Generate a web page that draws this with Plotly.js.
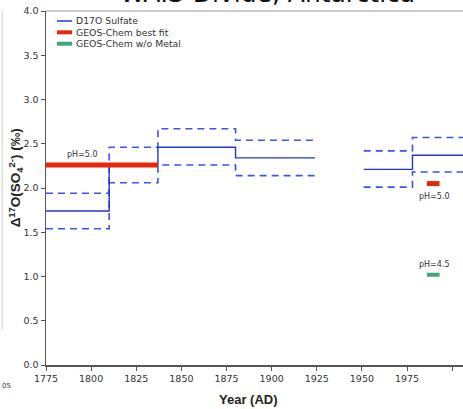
<!DOCTYPE html>
<html><head><meta charset="utf-8">
<script src="https://cdn.plot.ly/plotly-3.0.1.min.js"></script>
<style>html,body{margin:0;padding:0;background:#fff}#c{width:463px;height:409px}</style>
</head><body><div id="c"></div>
<script>
// Period boundaries (years AD) and D17O sulfate values
const periodA_x = [1775, 1810, 1837, 1880, 1924];
const periodA_mean = [1.74, 2.26, 2.46, 2.34, 2.34];
const periodA_upper = [1.94, 2.46, 2.67, 2.54, 2.54];
const periodA_lower = [1.54, 2.06, 2.26, 2.14, 2.14];
const periodB_x = [1951, 1978, 2006];
const periodB_mean = [2.21, 2.37, 2.37];
const periodB_upper = [2.42, 2.57, 2.57];
const periodB_lower = [2.01, 2.18, 2.18];
// GEOS-Chem model results
const bestfit_x1 = [1775, 1837];
const bestfit_y1 = [2.26, 2.26];
const bestfit_x2 = [1986, 1993];
const bestfit_y2 = [2.05, 2.05];
const nometal_x = [1986, 1993];
const nometal_y = [1.02, 1.02];
const xTicks = [1775, 1800, 1825, 1850, 1875, 1900, 1925, 1950, 1975, 2000];
const yTicks = [0, 0.5, 1, 1.5, 2, 2.5, 3, 3.5, 4];
const seriesNames = ['D17O Sulfate', 'GEOS-Chem best fit', 'GEOS-Chem w/o Metal'];

const blue = '#1f35e0';
const dashBlue = '#3a55e8';
const red = '#e8260a';
const green = '#3aa878';
const join = (a, b) => a.concat([null], b);
const xs = join(periodA_x, periodB_x);

const traces = [
  {x: xs, y: join(periodA_upper, periodB_upper), mode: 'lines', line: {shape: 'hv', color: dashBlue, width: 1.6, dash: '7px,5px'}, showlegend: false, connectgaps: false},
  {x: xs, y: join(periodA_lower, periodB_lower), mode: 'lines', line: {shape: 'hv', color: dashBlue, width: 1.6, dash: '7px,5px'}, showlegend: false, connectgaps: false},
  {x: xs, y: join(periodA_mean, periodB_mean), mode: 'lines', name: seriesNames[0], line: {shape: 'hv', color: blue, width: 1.4}, connectgaps: false, showlegend: false},
  {x: join(bestfit_x1, bestfit_x2), y: join(bestfit_y1, bestfit_y2), mode: 'lines', name: seriesNames[1], line: {color: red, width: 5}, connectgaps: false, showlegend: false},
  {x: nometal_x, y: nometal_y, mode: 'lines', name: seriesNames[2], line: {color: green, width: 4}, showlegend: false}
];

// manual compact legend (paper coords)
const legRows = [0.9718, 0.9398, 0.9076];
const legColors = [blue, red, green];
const legWidths = [1.5, 4, 4];
const legShapes = legRows.map((yy, i) => ({type: 'line', xref: 'paper', yref: 'paper', x0: 0.0264, x1: 0.0624, y0: yy, y1: yy, line: {color: legColors[i], width: legWidths[i]}}));
const legAnn = legRows.map((yy, i) => ({text: seriesNames[i], xref: 'paper', yref: 'paper', x: 0.0671, y: yy, xanchor: 'left', yanchor: 'middle', showarrow: false, font: {family: 'DejaVu Sans', size: 9.3, color: '#333'}}));

const layout = {
  width: 463, height: 409,
  margin: {l: 46, r: 0, t: 11, b: 44},
  paper_bgcolor: '#fff', plot_bgcolor: '#fff',
  showlegend: false,
  xaxis: {range: [1775, 2006], tickvals: xTicks, ticktext: xTicks.map(String), showgrid: false, zeroline: false,
    showline: true, linecolor: '#555', linewidth: 1.5, ticks: 'outside', ticklen: 4, tickcolor: '#555',
    tickfont: {family: 'DejaVu Sans', size: 9.5, color: '#333'}},
  yaxis: {range: [0, 4], tickvals: yTicks, ticktext: yTicks.map(v => v.toFixed(1)), showgrid: false, zeroline: false,
    showline: true, linecolor: '#555', linewidth: 1.5, ticks: 'outside', ticklen: 4, tickcolor: '#555',
    tickfont: {family: 'DejaVu Sans', size: 9.5, color: '#333'}},
  shapes: [
    {type: 'line', xref: 'paper', yref: 'paper', x0: 0, x1: 1, y0: 1, y1: 1, line: {color: '#bbb', width: 1.5}},
    {type: 'line', xref: 'paper', yref: 'paper', x0: -0.105, x1: -0.105, y0: 0.1, y1: 1.0, line: {color: '#ccc', width: 1}}
  ].concat(legShapes),
  annotations: [
    {text: 'WAIS-Divide, Antarctica', xref: 'paper', yref: 'paper', x: 0.532, y: 1.003, xanchor: 'center', yanchor: 'bottom', showarrow: false,
      font: {family: 'DejaVu Sans', size: 25, color: '#111'}},
    {text: '<b>Year (AD)</b>', xref: 'paper', yref: 'paper', x: 0.485, y: -0.098, xanchor: 'center', yanchor: 'middle', showarrow: false,
      font: {family: 'Liberation Sans', size: 13, color: '#222'}},
    {text: '<b>Δ<sup>17</sup>O(SO<sub>4</sub><sup>2-</sup>) (‰)</b>', xref: 'paper', yref: 'paper', x: -0.072, y: 0.53, xanchor: 'center', yanchor: 'middle', textangle: -90, showarrow: false,
      font: {family: 'Liberation Sans', size: 13.5, color: '#222'}},
    {text: 'pH=5.0', xref: 'x', yref: 'y', x: 1795, y: 2.3, yanchor: 'bottom', showarrow: false, font: {family: 'DejaVu Sans', size: 8, color: '#333'}},
    {text: 'pH=5.0', xref: 'x', yref: 'y', x: 1990, y: 1.98, yanchor: 'top', showarrow: false, font: {family: 'DejaVu Sans', size: 8, color: '#333'}},
    {text: 'pH=4.5', xref: 'x', yref: 'y', x: 1990, y: 1.06, yanchor: 'bottom', showarrow: false, font: {family: 'DejaVu Sans', size: 8, color: '#333'}},
    {text: '05', xref: 'paper', yref: 'paper', x: -0.095, y: -0.06, xanchor: 'center', yanchor: 'middle', showarrow: false, font: {family: 'DejaVu Sans', size: 7, color: '#333'}}
  ].concat(legAnn)
};
Plotly.newPlot('c', traces, layout, {displayModeBar: false, staticPlot: true});
</script></body></html>
